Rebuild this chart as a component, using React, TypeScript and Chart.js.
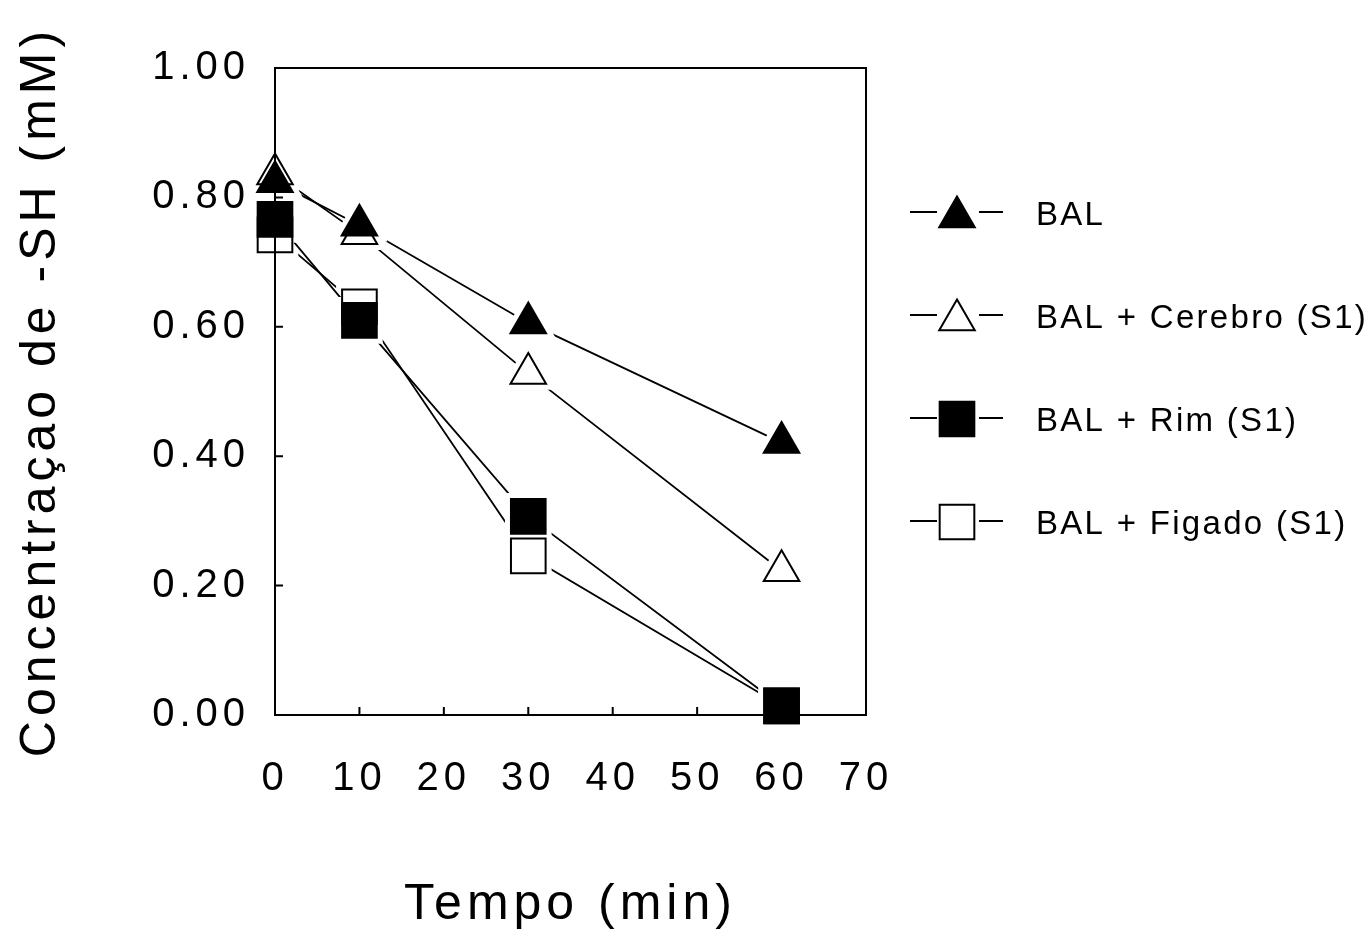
import { useEffect, useRef } from "react";
import { Chart, registerables } from "chart.js";

Chart.register(...registerables);

// Sampling times (min)
const times = [0, 10, 30, 60];

// -SH concentration (mM) per condition
const bal = [0.824, 0.757, 0.606, 0.421];
const balCerebro = [0.836, 0.744, 0.528, 0.223];
const balRim = [0.766, 0.61, 0.307, 0.014];
const balFigado = [0.742, 0.631, 0.246, 0.014];

const seriesNames = ["BAL", "BAL + Cerebro (S1)", "BAL + Rim (S1)", "BAL + Figado (S1)"];
const seriesValues = [bal, balCerebro, balRim, balFigado];
const seriesShapes = ["triangle", "triangle", "rect", "rect"];
const seriesFilled = [true, false, true, false];
// stacking: lower number is drawn on top
const seriesLayer = [0, 2, 1, 3];

const xTitle = "Tempo (min)";
const yTitle = "Concentraçao de -SH (mM)";

const FONT = "'Liberation Sans', Arial, Helvetica, sans-serif";
const TRI_R = 20.5;
const RECT_R = 24.5;

function markerRadius(shape: string) {
  return shape === "triangle" ? TRI_R : RECT_R;
}

function pathMarker(ctx: CanvasRenderingContext2D, shape: string, x: number, y: number) {
  ctx.beginPath();
  if (shape === "triangle") {
    const r = TRI_R;
    let a = 0;
    ctx.moveTo(x + Math.sin(a) * r, y - Math.cos(a) * r);
    a += (2 * Math.PI) / 3;
    ctx.lineTo(x + Math.sin(a) * r, y - Math.cos(a) * r);
    a += (2 * Math.PI) / 3;
    ctx.lineTo(x + Math.sin(a) * r, y - Math.cos(a) * r);
    ctx.closePath();
  } else {
    const s = RECT_R * Math.SQRT1_2;
    ctx.rect(x - s, y - s, 2 * s, 2 * s);
  }
}

// Box around the plot with inward-pointing ticks
const framePlugin = {
  id: "frame",
  afterDatasetsDraw(chart: any) {
    const { ctx, chartArea } = chart;
    const { left, right, top, bottom } = chartArea;
    ctx.save();
    ctx.strokeStyle = "#000";
    ctx.lineWidth = 2;
    ctx.strokeRect(left, top, right - left, bottom - top);
    const xs = chart.scales.x;
    const ys = chart.scales.y;
    ctx.beginPath();
    xs.ticks.forEach((t: any) => {
      const px = xs.getPixelForValue(t.value);
      ctx.moveTo(px, bottom);
      ctx.lineTo(px, bottom - 8);
    });
    ys.ticks.forEach((t: any) => {
      const py = ys.getPixelForValue(t.value);
      ctx.moveTo(left, py);
      ctx.lineTo(left + 8, py);
    });
    ctx.stroke();
    ctx.restore();
  },
};

// Wide letter spacing for axis text
const spacingPlugin = {
  id: "spacing",
  beforeLayout(chart: any) {
    (chart.ctx as any).letterSpacing = "5px";
  },
  beforeDraw(chart: any) {
    (chart.ctx as any).letterSpacing = "5px";
  },
};

// Legend on the right: line - marker - line, then the label
const legendPlugin = {
  id: "sideLegend",
  afterDraw(chart: any) {
    const ctx: CanvasRenderingContext2D = chart.ctx;
    const rowTop = 212;
    const rowGap = 103;
    const cx = 957;
    ctx.save();
    (ctx as any).letterSpacing = "2.3px";
    seriesNames.forEach((name, i) => {
      const y = rowTop + i * rowGap;
      const shape = seriesShapes[i];
      ctx.strokeStyle = "#000";
      ctx.lineWidth = 2;
      ctx.beginPath();
      ctx.moveTo(910, y);
      ctx.lineTo(937, y);
      ctx.moveTo(979, y);
      ctx.lineTo(1003, y);
      ctx.stroke();
      const my = shape === "triangle" ? y + 5 : y + 1;
      pathMarker(ctx, shape, cx, my);
      ctx.fillStyle = seriesFilled[i] ? "#000" : "#fff";
      ctx.fill();
      ctx.lineWidth = 2;
      ctx.stroke();
      ctx.fillStyle = "#000";
      ctx.font = `33px ${FONT}`;
      ctx.textAlign = "left";
      ctx.textBaseline = "middle";
      ctx.fillText(name, 1036, y + 4);
    });
    ctx.restore();
  },
};

export default function App() {
  const canvasRef = useRef<HTMLCanvasElement | null>(null);

  useEffect(() => {
    document.body.style.margin = "0";
    const canvas = canvasRef.current;
    if (!canvas) return;

    const markerSets = seriesNames.map((name, i) => ({
      label: name,
      data: times.map((t, j) => ({ x: t, y: seriesValues[i][j] })),
      showLine: false,
      clip: false,
      order: seriesLayer[i],
      pointStyle: seriesShapes[i],
      pointRadius: markerRadius(seriesShapes[i]),
      pointBackgroundColor: seriesFilled[i] ? "#000" : "#fff",
      pointBorderColor: "#000",
      pointBorderWidth: 2,
    }));

    // connecting lines, with a white halo at each point so lines stop short of the markers
    const lineSets = seriesNames.map((name, i) => ({
      label: name + " line",
      data: times.map((t, j) => ({ x: t, y: seriesValues[i][j] })),
      showLine: true,
      clip: false,
      order: 10 + seriesLayer[i],
      borderColor: "#000",
      borderWidth: 1.8,
      tension: 0,
      pointStyle: seriesShapes[i],
      pointRadius: markerRadius(seriesShapes[i]),
      pointBackgroundColor: "#fff",
      pointBorderColor: "#fff",
      pointBorderWidth: 12,
    }));

    const chart = new Chart(canvas, {
      type: "line",
      data: { datasets: [...markerSets, ...lineSets] as any },
      plugins: [spacingPlugin, framePlugin, legendPlugin],
      options: {
        animation: false,
        responsive: false,
        events: [],
        layout: { padding: { top: 68, right: 505, left: 0, bottom: 0 } },
        plugins: {
          legend: { display: false },
          tooltip: { enabled: false },
          title: { display: false },
        },
        scales: {
          x: {
            type: "linear",
            min: 0,
            max: 70,
            grid: { display: false, drawTicks: false },
            border: { display: false },
            ticks: {
              stepSize: 10,
              color: "#000",
              padding: 40,
              maxRotation: 0,
              font: { family: FONT, size: 40 },
            },
            title: {
              display: true,
              text: xTitle,
              color: "#000",
              font: { family: FONT, size: 50 },
              padding: { top: 0, bottom: 3 },
            },
            afterFit(scale: any) {
              scale.height = 223;
            },
          },
          y: {
            type: "linear",
            min: 0,
            max: 1,
            grid: { display: false, drawTicks: false },
            border: { display: false },
            ticks: {
              stepSize: 0.2,
              color: "#000",
              padding: 25,
              font: { family: FONT, size: 40 },
              callback: (v: any) => Number(v).toFixed(2),
            },
            title: {
              display: true,
              text: yTitle,
              color: "#000",
              font: { family: FONT, size: 50 },
              padding: { top: 11, bottom: 0 },
            },
            afterFit(scale: any) {
              scale.width = 275;
            },
          },
        },
      } as any,
    });

    return () => chart.destroy();
  }, []);

  return (
    <div style={{ width: 1371, height: 938, background: "#fff" }}>
      <canvas ref={canvasRef} width={1371} height={938} style={{ display: "block" }} />
    </div>
  );
}
